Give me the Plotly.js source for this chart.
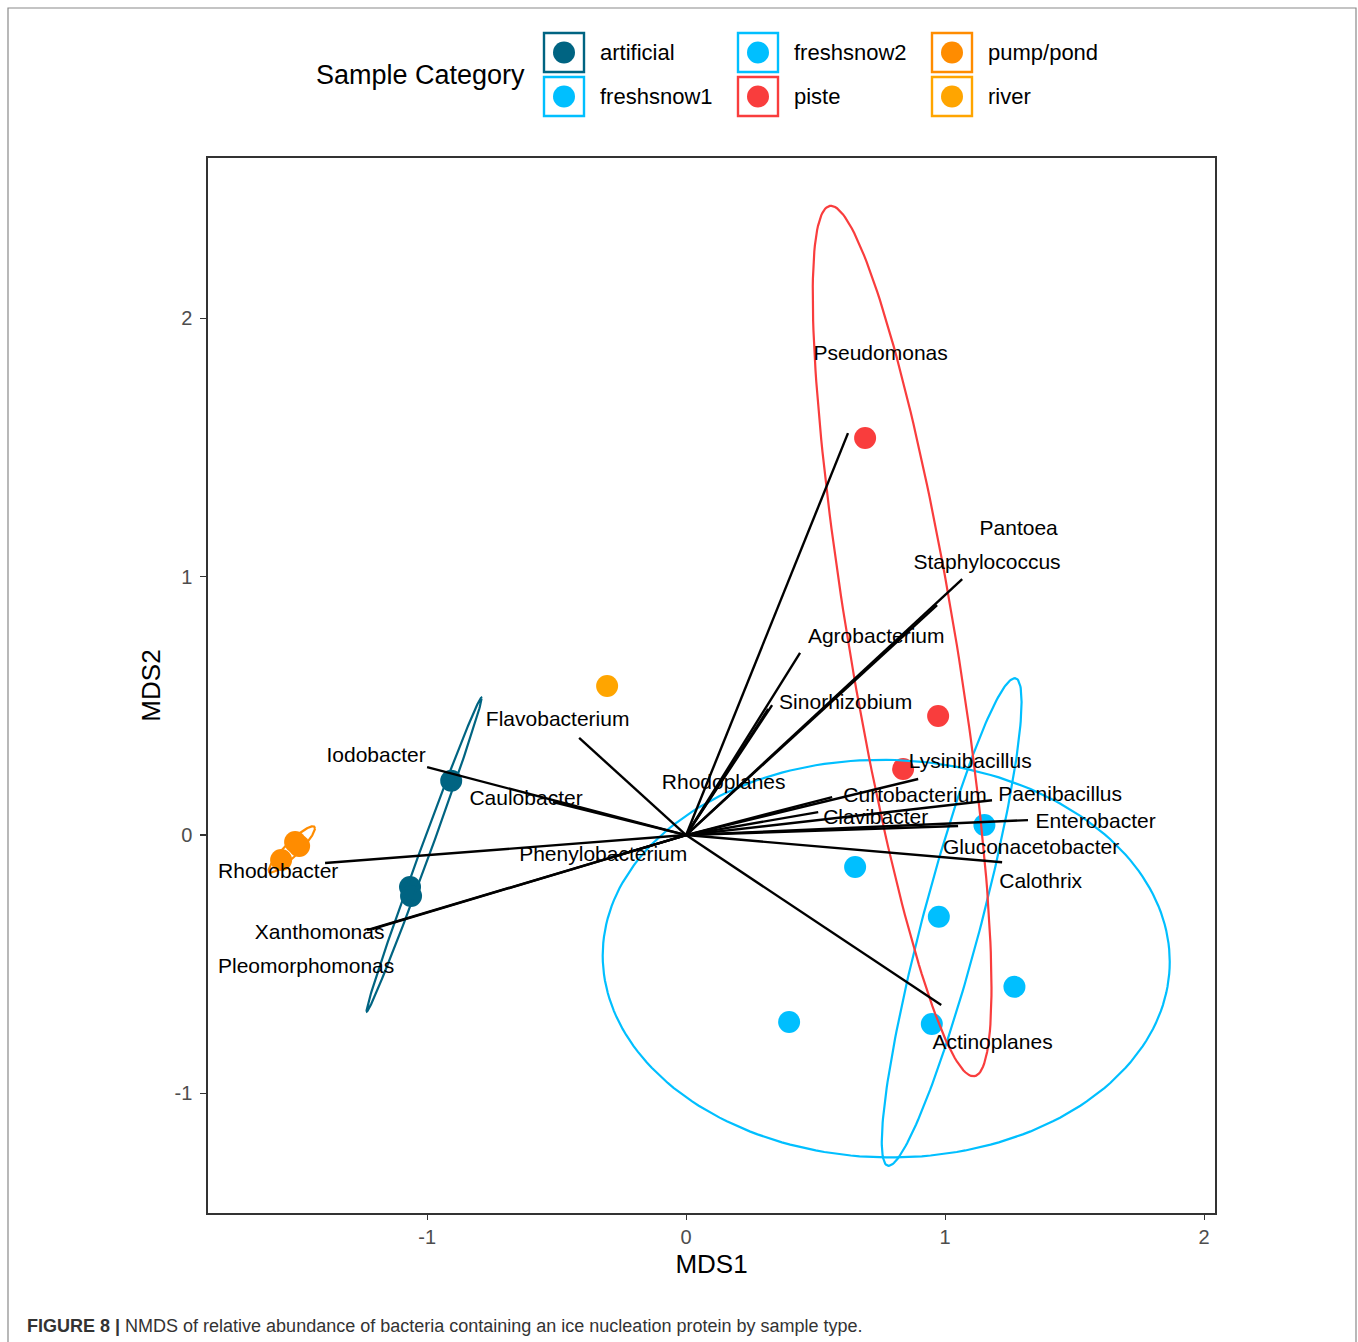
<!DOCTYPE html>
<html>
<head>
<meta charset="utf-8">
<script src="https://cdn.plot.ly/plotly-3.0.1.min.js"></script>
<style>
html,body{margin:0;padding:0;background:#fff;}
#chart{width:1358px;height:1342px;}
</style>
</head>
<body>
<div id="chart"></div>
<script>
// ---------- DATA ----------
const groups = ['artificial', 'freshsnow1', 'freshsnow2', 'piste', 'pump/pond', 'river'];
const groupColors = ['#006482', '#00BFFF', '#00BFFF', '#F93D3D', '#FF8C00', '#FFA500'];

const mds1_artificial = [-0.907, -1.066, -1.062];
const mds2_artificial = [0.210, -0.201, -0.236];
const mds1_freshsnow1 = [0.6525, 1.2676, 0.3977];
const mds2_freshsnow1 = [-0.1239, -0.5873, -0.7239];
const mds1_freshsnow2 = [1.1517, 0.9757, 0.9486];
const mds2_freshsnow2 = [0.0387, -0.3163, -0.7317];
const mds1_piste = [0.6911, 0.9730, 0.8378];
const mds2_piste = [1.5369, 0.4607, 0.2555];
const mds1_pumppond = [-1.5637, -1.5097, -1.4942];
const mds2_pumppond = [-0.0968, -0.0271, -0.0426];
const mds1_river = [-0.305];
const mds2_river = [0.577];

// genus vectors (arrow tips) and their label positions
const genera = ['Pseudomonas', 'Pantoea', 'Staphylococcus', 'Agrobacterium', 'Sinorhizobium',
  'Rhodoplanes', 'Lysinibacillus', 'Curtobacterium', 'Paenibacillus', 'Clavibacter',
  'Enterobacter', 'Gluconacetobacter', 'Calothrix', 'Actinoplanes', 'Flavobacterium',
  'Iodobacter', 'Caulobacter', 'Rhodobacter', 'Phenylobacterium', 'Xanthomonas', 'Pleomorphomonas'];
const vecMDS1 = [0.625, 1.066, 0.969, 0.440, 0.332, 0.317, 0.896, 0.564, 1.181, 0.510,
  1.320, 1.050, 1.220, 0.985, -0.413, -1.000, -0.514, -1.394, -0.286, -1.232, -1.212];
const vecMDS2 = [1.556, 0.991, 0.890, 0.705, 0.503, 0.488, 0.217, 0.147, 0.135, 0.089,
  0.058, 0.035, -0.105, -0.658, 0.376, 0.263, 0.128, -0.108, -0.085, -0.368, -0.364];
const labMDS1 = [0.751, 1.284, 1.162, 0.734, 0.616, 0.145, 1.097, 0.884, 1.444, 0.732,
  1.581, 1.332, 1.369, 1.183, -0.496, -1.197, -0.618, -1.575, -0.320, -1.415, -1.467];
const labMDS2 = [1.860, 1.182, 1.051, 0.764, 0.509, 0.199, 0.280, 0.149, 0.153, 0.064,
  0.048, -0.053, -0.184, -0.808, 0.443, 0.304, 0.137, -0.146, -0.080, -0.382, -0.513];

const xTicks = [-1, 0, 1, 2];
const yTicks = [-1, 0, 1, 2];

// ---------- BUILD ----------
const FONT = 'Liberation Sans, Arial, Helvetica, sans-serif';
const groupX = [mds1_artificial, mds1_freshsnow1, mds1_freshsnow2, mds1_piste, mds1_pumppond, mds1_river];
const groupY = [mds2_artificial, mds2_freshsnow1, mds2_freshsnow2, mds2_piste, mds2_pumppond, mds2_river];

// 95% confidence ellipse (standard deviation, chi-square 2 df) from group points
function ellipse(xs, ys) {
  const n = xs.length;
  if (n < 3) return null;
  const mx = xs.reduce((a, b) => a + b, 0) / n;
  const my = ys.reduce((a, b) => a + b, 0) / n;
  let sxx = 0, syy = 0, sxy = 0;
  for (let i = 0; i < n; i++) {
    sxx += (xs[i] - mx) ** 2; syy += (ys[i] - my) ** 2; sxy += (xs[i] - mx) * (ys[i] - my);
  }
  sxx /= (n - 1); syy /= (n - 1); sxy /= (n - 1);
  const r = Math.sqrt(5.991464547);
  const a = Math.sqrt(sxx), b = sxy / a, c = Math.sqrt(Math.max(syy - b * b, 0));
  const ex = [], ey = [];
  for (let k = 0; k <= 200; k++) {
    const t = 2 * Math.PI * k / 200;
    ex.push(mx + r * a * Math.cos(t));
    ey.push(my + r * (b * Math.cos(t) + c * Math.sin(t)));
  }
  return {x: ex, y: ey};
}

const traces = [];
groups.forEach((g, i) => {
  traces.push({
    type: 'scatter', mode: 'markers', x: groupX[i], y: groupY[i], name: g,
    marker: {color: groupColors[i], size: 22, line: {width: 0}},
    showlegend: false, hoverinfo: 'x+y+name'
  });
});
groups.forEach((g, i) => {
  const e = ellipse(groupX[i], groupY[i]);
  if (!e) return;
  traces.push({
    type: 'scatter', mode: 'lines', x: e.x, y: e.y, name: g + ' ellipse',
    line: {color: groupColors[i], width: 2.2}, showlegend: false, hoverinfo: 'skip'
  });
});
const ax = [], ay = [];
genera.forEach((g, i) => { ax.push(0, vecMDS1[i], null); ay.push(0, vecMDS2[i], null); });
traces.push({
  type: 'scatter', mode: 'lines', x: ax, y: ay, line: {color: '#000', width: 2.4},
  showlegend: false, hoverinfo: 'skip', connectgaps: false
});
traces.push({
  type: 'scatter', mode: 'text', x: labMDS1, y: labMDS2, text: genera,
  textposition: 'middle center', textfont: {family: FONT, size: 21, color: '#000'},
  showlegend: false, hoverinfo: 'text'
});

// layout geometry helpers (paper coords)
const W = 1358, H = 1342, L = 208, R = 143, T = 158, B = 129;
const PW = W - L - R, PH = H - T - B;
const px = v => (v - L) / PW;
const py = v => (H - B - v) / PH;

const shapes = [];
const annotations = [];
// outer figure frame
shapes.push({type: 'rect', xref: 'paper', yref: 'paper', x0: px(8), x1: px(1356), y0: py(1360), y1: py(8),
  line: {color: '#8a8a8a', width: 1.2}, fillcolor: 'rgba(0,0,0,0)', layer: 'below'});

// manual legend
annotations.push({xref: 'paper', yref: 'paper', x: px(314), y: py(75), xanchor: 'left', yanchor: 'middle',
  text: 'Sample Category', showarrow: false, font: {family: FONT, size: 27, color: '#000'}});
groups.forEach((g, i) => {
  const col = Math.floor(i / 2), row = i % 2;
  const bx = 543 + col * 194, by = 32 + row * 44;
  shapes.push({type: 'rect', xref: 'paper', yref: 'paper', x0: px(bx + 1), x1: px(bx + 41), y0: py(by + 40), y1: py(by + 1),
    line: {color: groupColors[i], width: 2.4}, fillcolor: '#fff'});
  shapes.push({type: 'circle', xref: 'paper', yref: 'paper', x0: px(bx + 10), x1: px(bx + 32), y0: py(by + 31.5), y1: py(by + 9.5),
    line: {width: 0}, fillcolor: groupColors[i]});
  annotations.push({xref: 'paper', yref: 'paper', x: px(bx + 55), y: py(by + 20), xanchor: 'left', yanchor: 'middle',
    text: g, showarrow: false, font: {family: FONT, size: 22, color: '#000'}});
});
// caption
annotations.push({xref: 'paper', yref: 'paper', x: px(25), y: py(1326), xanchor: 'left', yanchor: 'middle',
  text: '<b>FIGURE 8 |</b> NMDS of relative abundance of bacteria containing an ice nucleation protein by sample type.',
  showarrow: false, font: {family: FONT, size: 18, color: '#333'}});

const axisCommon = {
  showgrid: false, zeroline: false, showline: true, mirror: true, linecolor: '#333', linewidth: 1.6,
  ticks: 'outside', ticklen: 6, tickwidth: 1.2, tickcolor: '#333',
  tickfont: {family: FONT, size: 20, color: '#4D4D4D'}, automargin: false
};

const layout = {
  width: W, height: H, margin: {l: L, r: R, t: T, b: B, pad: 0},
  paper_bgcolor: '#fff', plot_bgcolor: '#fff', showlegend: false,
  font: {family: FONT},
  xaxis: Object.assign({}, axisCommon, {range: [-1.846, 2.042], tickvals: xTicks, ticktext: xTicks.map(String),
    ticklen: 5,
    title: {text: 'MDS1', font: {family: FONT, size: 26, color: '#000'}, standoff: 8}}),
  yaxis: Object.assign({}, axisCommon, {range: [-1.463, 2.621], tickvals: yTicks, ticktext: yTicks.map(String),
    ticklabelstandoff: 4,
    title: {text: 'MDS2', font: {family: FONT, size: 26, color: '#000'}, standoff: 6}}),
  shapes: shapes, annotations: annotations
};

Plotly.newPlot('chart', traces, layout, {displayModeBar: false, staticPlot: true});
</script>
</body>
</html>
